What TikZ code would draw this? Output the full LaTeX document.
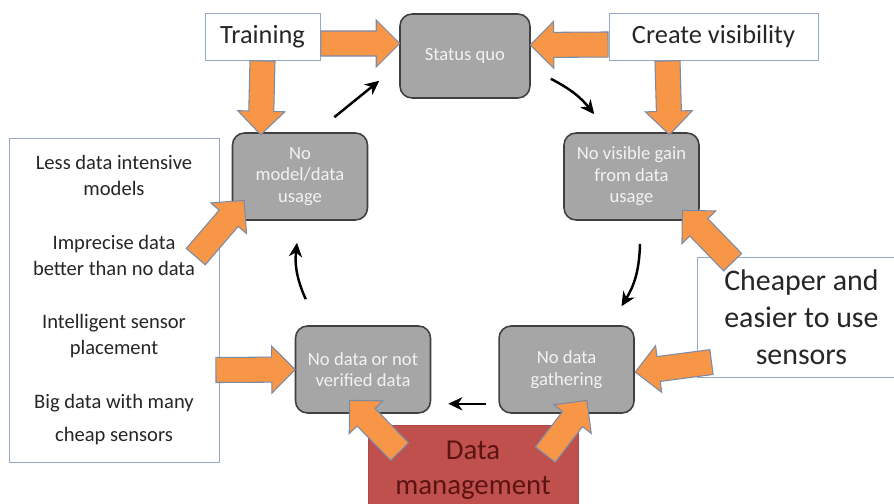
\documentclass[tikz,border=0pt]{standalone}
\usepackage{fontspec}
\setmainfont{Carlito}
\usetikzlibrary{arrows.meta}
\usetikzlibrary{positioning}
\usetikzlibrary{calc}
\usetikzlibrary{shapes.arrows}

\definecolor{boxgray}{HTML}{A6A6A6}
\definecolor{boxline}{HTML}{404040}
\definecolor{boxtext}{HTML}{F2F2F2}
\definecolor{fatorange}{HTML}{F79646}
\definecolor{fatline}{HTML}{7A8BA8}
\definecolor{labelline}{HTML}{95A8C4}
\definecolor{labeltext}{HTML}{262626}
\definecolor{mgmtred}{HTML}{C0504D}
\definecolor{mgmttext}{HTML}{5C1412}

\begin{document}
\begin{tikzpicture}[x=0.02cm,y=-0.02cm]
\useasboundingbox (0,0) rectangle (894,504);
\clip (0,0) rectangle (894,504);

\begin{scope}[every node/.style={draw=boxline,fill=boxgray,line width=0.9pt,rounded corners=0.24cm,
              text=boxtext,align=center,font=\fontsize{10.6}{12.2}\selectfont,
              minimum width=2.7cm,minimum height=1.74cm}]
    \node[minimum width=2.6cm,minimum height=1.68cm] (status_quo) at (465,56) {Status quo};
    \node (no_model)  at (300,176.5) {No\\model/data\\usage};
    \node[right=3.9cm of {no_model}]  (no_gain)   {No visible gain\\from data\\usage};
    \node (no_data)   at (363,369.5) {No data or not\\verified data};
    \node[right=1.34cm of {no_data}]  (no_gather) {No data\\gathering};
\end{scope}

\begin{scope}[every node/.style={draw=labelline,fill=white,line width=0.5pt,text=labeltext,align=center}]
    \node[minimum width=2.3cm,minimum height=0.94cm,font=\fontsize{15}{18}\selectfont] (training) at (262.5,36.5) {Training};
    \node[minimum width=4.18cm,minimum height=0.94cm,font=\fontsize{15}{18}\selectfont] (visibility) at (713.5,36.5) {Create visibility};
    \node[minimum width=4.2cm,minimum height=6.48cm,font=\fontsize{11.7}{14.7}\selectfont] (less_data) at (114,300)
        {Less data intensive\\models\\[16pt]Imprecise data\\better than no data\\[16pt]Intelligent sensor\\placement\\[16pt]Big data with many\\[4pt]cheap sensors};
    \node[anchor=west,minimum width=4.16cm,minimum height=2.4cm,font=\fontsize{17}{21}\selectfont] (cheaper) at (697,317)
        {Cheaper and\\easier to use\\sensors};
    \node[anchor=north,fill=mgmtred,draw=mgmtred!90!black,text=mgmttext,minimum width=4.2cm,minimum height=1.8cm,
          font=\fontsize{16.4}{20}\selectfont] (data_man) at (473,425) {Data\\management};
\end{scope}

\newcommand{\fatArrow}[2]{\path let \p1=#1, \p2=#2, \n1={atan2(\y2-\y1,\x2-\x1)}, \n2={veclen(\x2-\x1,\y2-\y1)}
    in node[fat,rotate=\n1,minimum height=\n2,anchor=tail] at (\p1) {};}

\begin{scope}[fat/.style={single arrow,draw=fatline,fill=fatorange,line width=0.6pt,
              inner xsep=0pt,inner ysep=0.24cm,single arrow head extend=0.22cm,minimum width=0pt}]
    \fatArrow{($(training.east)+(0,7)$)}{($(status_quo.west)+(0,-12.5)$)}
    \fatArrow{(training.south)}{($(no_model.north west)+(29,2)$)}
    \fatArrow{($(visibility.west)+(0,8)$)}{($(status_quo.east)+(0,-11)$)}
    \fatArrow{($(visibility.south)+(-46,0)$)}{($(no_gain.north)+(38,2)$)}
    \fatArrow{($(less_data.east)+(-24,-43)$)}{($(no_model.south west)+(12,-20)$)}
    \fatArrow{($(less_data.east)+(-4,70)$)}{(no_data.west)}
    \fatArrow{($(data_man.north)+(-73,27)$)}{($(no_data.south)+(-13,-13)$)}
    \fatArrow{($(data_man.north)+(72,30)$)}{($(no_gather.south)+(20,-13)$)}
    \fatArrow{($(cheaper.north west)+(36,6)$)}{($(no_gain.south east)+(-17,-10)$)}
    \fatArrow{($(cheaper.west)+(15,45)$)}{($(no_gather.east)+(1,2.5)$)}
\end{scope}

\begin{scope}[>={Stealth[black,length=8pt,width=7.5pt,inset=2.5pt]},
              every edge/.style={draw=black,line width=1.4pt}]
    \path [->] ($(no_model.north east)+(-34,-15)$)   edge                ($(status_quo.south west)+(-20,-18)$);
    \path [->] ($(status_quo.south east)+(20,-20)$)  edge[bend left=12] ($(no_gain.north west)+(31,-18)$);
    \path [->] ($(no_gain.south)+(8.5,23)$)          edge[bend left=15] ($(no_gather.north)+(55,-19)$);
    \path [->] ($(no_gather.south west)+(-12,-10)$)  edge                ($(no_data.south east)+(17,-10)$);
    \path [->] ($(no_data.north west)+(11,-26)$)     edge[bend left=15] ($(no_model.south)+(-3,22)$);
\end{scope}
\end{tikzpicture}
\end{document}
